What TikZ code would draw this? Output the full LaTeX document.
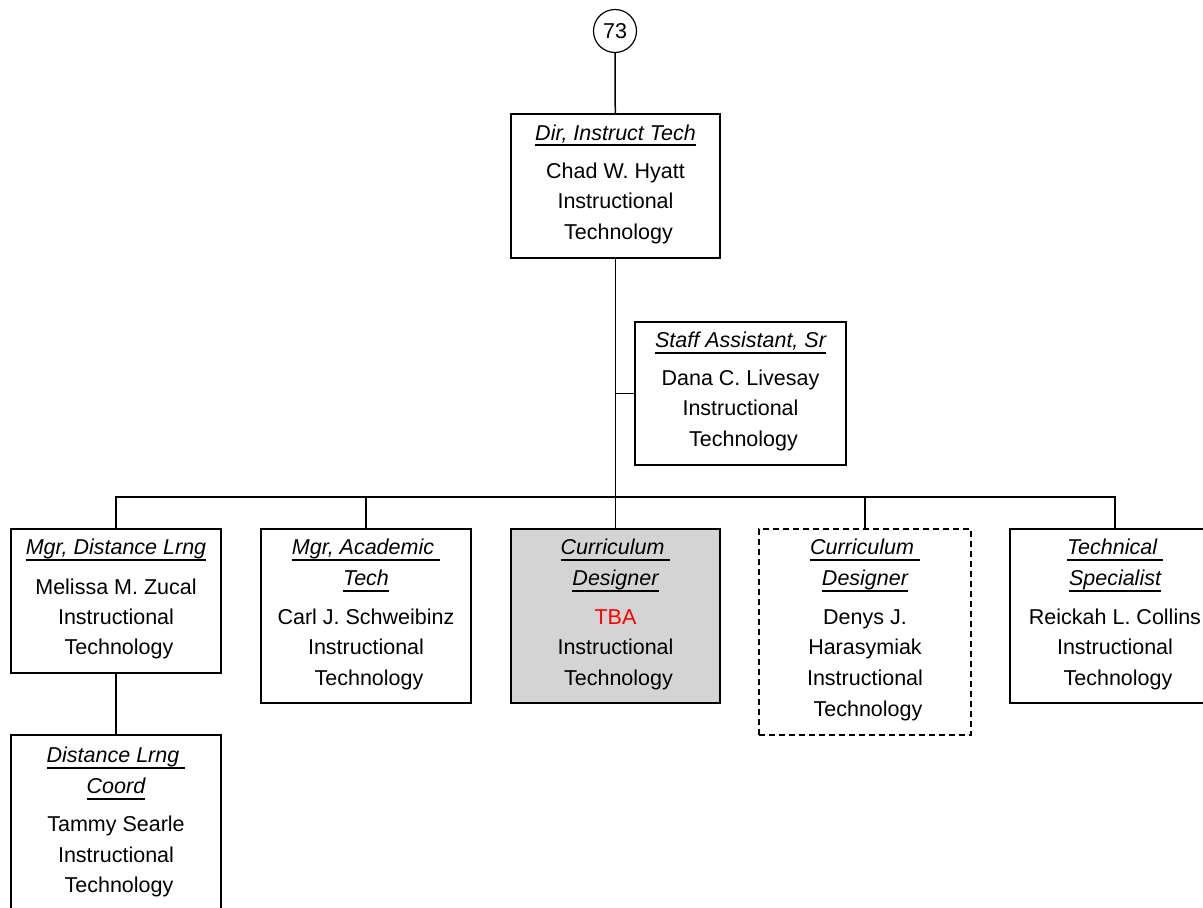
\documentclass[tikz,border=0pt]{standalone}
\usepackage{fontspec}
\setmainfont{Liberation Sans}
\newcommand\ttlul[1]{\setbox0\hbox{\itshape #1}\leavevmode\rlap{\raisebox{-6.2pt}{\rule{\wd0}{2pt}}}\box0}
\tikzset{
  box/.style={draw, line width=1.4pt, rectangle, minimum width=210pt, inner sep=0pt},
  txt/.style={anchor=base, inner sep=0pt, font=\fontsize{21.5}{26}\selectfont},
  conn/.style={line width=1.5pt},
  vacant/.style={dash pattern=on 6pt off 4pt},
}
\begin{document}
\begin{tikzpicture}[x=1pt,y=-1pt]
\useasboundingbox[fill=white] (0,0) rectangle (1203,908);
\clip (0,0) rectangle (1203,908);
% boxes
\node[draw, circle, line width=1.2pt, minimum size=43pt, inner sep=0pt, font=\fontsize{21.5}{26}\selectfont] (top) at (615,31) {73};
\node[box, minimum width=209pt, minimum height=144pt] (dir) at (615.5,186) {};
\node[box, minimum width=211pt, minimum height=143pt] (staff) at (740.5,393.5) {};
\node[box, minimum height=144pt] (b1) at (116,601) {};
\node[box, minimum height=174pt] (b2) at (366,616) {};
\node[box, minimum width=209pt, minimum height=174pt, fill={rgb,255:red,212;green,212;blue,212}] (b3) at (615.5,616) {};
\node[box, vacant, minimum width=212pt, minimum height=206pt] (b4) at (865,632) {};
\node[box, minimum height=174pt] (b5) at (1115,616) {};
\node[box, minimum height=200pt] (b6) at (116,835) {};
% connectors
\coordinate (bus) at (615.5,497);
\draw[conn] (top) -- (dir);
\draw[conn] (dir.south) -- (bus);
\draw[conn] (staff.west) -- (staff.west -| bus);
\draw[conn] (b1.north) -- (b1.north |- bus) -- (b5.north |- bus) -- (b5.north);
\draw[conn] (b2.north) -- (b2.north |- bus);
\draw[conn] (b3.north) -- (b3.north |- bus);
\draw[conn] (b4.north) -- (b4.north |- bus);
\draw[conn] (b1.south) -- (b6.north);
% texts: director
\node[txt] (dirT) at (615.5,140) {\ttlul{Dir, Instruct Tech}};
\node[txt] (dirN) at (615.5,178.5) {Chad W. Hyatt};
\node[txt] (dirD1) at (615.5,208.5) {Instructional\ };
\node[txt] (dirD2) at (615.5,239.5) {\ Technology};
% staff
\node[txt] (stT) at (740.5,347.5) {\ttlul{Staff Assistant, Sr}};
\node[txt] (stN) at (740.5,385.5) {Dana C. Livesay};
\node[txt] (stD1) at (740.5,415.5) {Instructional\ };
\node[txt] (stD2) at (740.5,446.5) {\ Technology};
% b1
\node[txt] (b1T) at (116,554.5) {\ttlul{Mgr, Distance Lrng}};
\node[txt] (b1N) at (116,594.5) {Melissa M. Zucal};
\node[txt] (b1D1) at (116,624.5) {Instructional\ };
\node[txt] (b1D2) at (116,654.5) {\ Technology};
% b2
\node[txt] (b2T1) at (366,554.5) {\ttlul{Mgr, Academic }};
\node[txt] (b2T2) at (366,585.5) {\ttlul{Tech}};
\node[txt] (b2N) at (366,624.5) {Carl J. Schweibinz};
\node[txt] (b2D1) at (366,654.5) {Instructional\ };
\node[txt] (b2D2) at (366,685.5) {\ Technology};
% b3
\node[txt] (b3T1) at (615.5,554.5) {\ttlul{Curriculum }};
\node[txt] (b3T2) at (615.5,585.5) {\ttlul{Designer}};
\node[txt, text=red] (b3N) at (615.5,624.5) {TBA};
\node[txt] (b3D1) at (615.5,654.5) {Instructional\ };
\node[txt] (b3D2) at (615.5,685.5) {\ Technology};
% b4
\node[txt] (b4T1) at (865,554.5) {\ttlul{Curriculum }};
\node[txt] (b4T2) at (865,585.5) {\ttlul{Designer}};
\node[txt] (b4N1) at (865,624.5) {Denys J.\ };
\node[txt] (b4N2) at (865,654.5) {Harasymiak};
\node[txt] (b4D1) at (865,685.5) {Instructional\ };
\node[txt] (b4D2) at (865,716.5) {\ Technology};
% b5
\node[txt] (b5T1) at (1115,554.5) {\ttlul{Technical }};
\node[txt] (b5T2) at (1115,585.5) {\ttlul{Specialist}};
\node[txt] (b5N) at (1115,624.5) {Reickah L. Collins};
\node[txt] (b5D1) at (1115,654.5) {Instructional\ };
\node[txt] (b5D2) at (1115,685.5) {\ Technology};
% b6
\node[txt] (b6T1) at (116,762.5) {\ttlul{Distance Lrng }};
\node[txt] (b6T2) at (116,793.5) {\ttlul{Coord}};
\node[txt] (b6N) at (116,831.5) {Tammy Searle};
\node[txt] (b6D1) at (116,862.5) {Instructional\ };
\node[txt] (b6D2) at (116,892.5) {\ Technology};
\end{tikzpicture}
\end{document}
